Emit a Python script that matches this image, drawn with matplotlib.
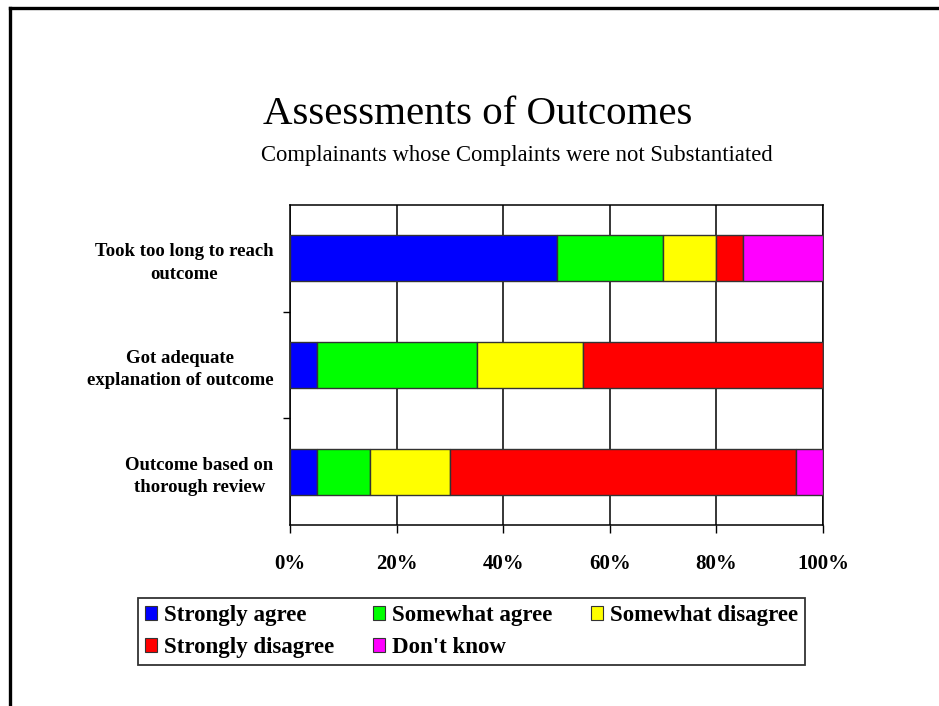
#!/usr/bin/env python3
# -*- coding: utf-8 -*-

import numpy as np
import matplotlib
matplotlib.use('Agg')
import matplotlib.pyplot as plt
from matplotlib.patches import Patch
from matplotlib.lines import Line2D
from matplotlib.ticker import FixedLocator, FuncFormatter

# --------------------------------------------------------------------------
# data (percent of respondents), categories from top to bottom
categories = ['Took too long to reach\noutcome',
              'Got adequate\nexplanation of outcome',
              'Outcome based on\nthorough review']
series = ['Strongly agree', 'Somewhat agree', 'Somewhat disagree',
          'Strongly disagree', "Don't know"]
strongly_agree = [50, 5, 5]
somewhat_agree = [20, 30, 10]
somewhat_disagree = [10, 20, 15]
strongly_disagree = [5, 45, 65]
dont_know = [15, 0, 5]
x_ticks = [0, 20, 40, 60, 80, 100]

colors = ['#0000ff', '#00ff00', '#ffff00', '#ff0000', '#ff00ff']
values = [strongly_agree, somewhat_agree, somewhat_disagree,
          strongly_disagree, dont_know]

plt.rcParams['font.family'] = ['Liberation Serif', 'DejaVu Serif']

fig = plt.figure(figsize=(9.39, 7.06), dpi=100)
ax = fig.add_axes([290/939, 1-525/706, 533/939, 320/706])

# stacked bars
y = np.arange(len(categories))
left = np.zeros(len(categories))
for vals, col in zip(values, colors):
    vals = np.array(vals, dtype=float)
    ax.barh(y, vals, left=left, height=0.43, color=col,
            edgecolor='#333333', linewidth=1.0, zorder=3)
    left += vals

ax.set_xlim(0, 100)
ax.set_ylim(2.5, -0.5)

# x axis : black grid, outward ticks
ax.xaxis.set_major_locator(FixedLocator(x_ticks))
ax.xaxis.set_major_formatter(FuncFormatter(lambda v, p: '%d%%' % v))
ax.grid(axis='x', color='black', linewidth=1.1, zorder=1)
ax.tick_params(axis='x', direction='out', length=6, width=1, pad=15,
               labelsize=15)
for t in ax.get_xticklabels():
    t.set_fontweight('bold')

# y axis : labels in the middle, ticks between categories
ax.set_yticks(y)
ax.set_yticklabels(categories, fontsize=13.5, fontweight='bold',
                   multialignment='center', linespacing=1.4)
ax.tick_params(axis='y', length=0, pad=12)
ax.yaxis.set_minor_locator(FixedLocator([0.5, 1.5]))
ax.tick_params(axis='y', which='minor', direction='out', length=5, width=1)

for s in ax.spines.values():
    s.set_color('black')
    s.set_linewidth(1.1)

# titles
fig.text(478/939, 1-115/706, 'Assessments of Outcomes', ha='center',
         va='center', fontsize=29.5)
fig.text(517/939, 1-156/706,
         'Complainants whose Complaints were not Substantiated',
         ha='center', va='center', fontsize=16.3)

# legend, row wise order
order = [0, 3, 1, 4, 2]
handles = [Patch(facecolor=colors[i], edgecolor='#333333', linewidth=0.8)
           for i in order]
labels = [series[i] for i in order]
leg = fig.legend(handles, labels, ncol=3, loc='center',
                 bbox_to_anchor=(138/939, 1-666/706, 667/939, 69/706),
                 mode='expand', frameon=True, fancybox=False,
                 edgecolor='black', prop={'weight': 'bold', 'size': 16.5},
                 handlelength=0.55, handleheight=0.55, handletextpad=0.3,
                 columnspacing=0.5, borderpad=0.3, labelspacing=0.5,
                 borderaxespad=0)
leg.get_frame().set_linewidth(1.3)

# page frame (top and left only)
fig.add_artist(Line2D([9.5/939, 1.0], [1-7.5/706, 1-7.5/706],
                      transform=fig.transFigure, color='black', lw=2.4))
fig.add_artist(Line2D([9.5/939, 9.5/939], [0.0, 1-7.5/706],
                      transform=fig.transFigure, color='black', lw=2.4))

fig.savefig('out.png', dpi=100)
